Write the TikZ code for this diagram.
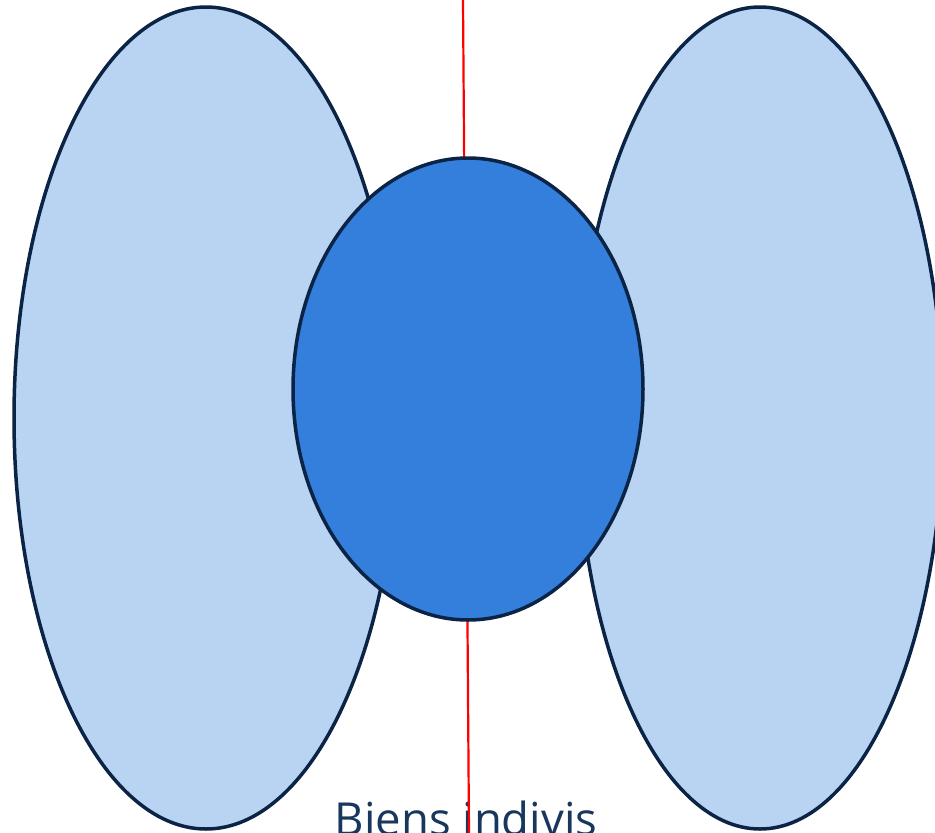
\documentclass[tikz,border=0pt]{standalone}
\usepackage{fontspec}
\setmainfont{Open Sans}
\usetikzlibrary{shapes.geometric}
\definecolor{lightblob}{HTML}{B9D4F2}
\definecolor{midblob}{HTML}{337FDB}
\definecolor{edgenavy}{HTML}{0B2345}
\definecolor{textnavy}{HTML}{17375E}
\tikzset{
  blob/.style={ellipse, draw=edgenavy, line width=3.5pt, inner sep=0pt, outer sep=0pt},
}
\begin{document}
\begin{tikzpicture}[x=1pt,y=1pt]
\useasboundingbox (0,0) rectangle (935,-833);
\clip (0,0) rectangle (935,-833);
\fill[white] (0,0) rectangle (935,-833);
\node[blob, fill=lightblob, minimum width=384pt, minimum height=822pt] (left) at (206,-418) {};
\node[blob, fill=lightblob, minimum width=366pt, minimum height=822pt] (right) at (760,-418) {};
\node[text=textnavy, font=\fontsize{45.5}{54}\selectfont, anchor=base] (label) at (466,-835) {Biens indivis};
\coordinate (redtop) at (463,0);
\coordinate (redbot) at (469,-833);
\draw[red, line width=2.2pt] (redtop) -- (redbot);
\node[blob, fill=midblob, minimum width=350pt, minimum height=462pt] (mid) at (468,-389) {};
\end{tikzpicture}
\end{document}
